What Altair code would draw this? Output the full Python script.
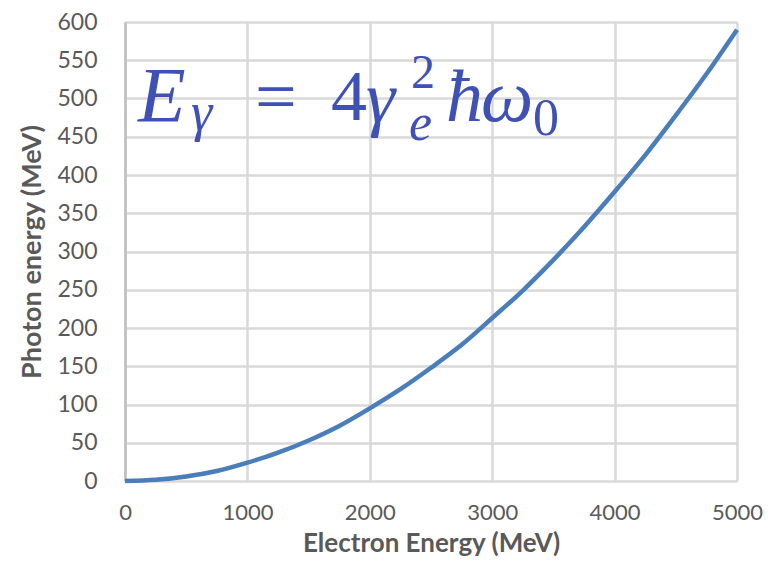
import altair as alt
import pandas as pd

electron_mev = [0, 250, 500, 750, 1000, 1250, 1500, 1750, 2000, 2250, 2500,
                2750, 3000, 3250, 3500, 3750, 4000, 4250, 4500, 4750, 5000]
photon_mev = [0, 1.5, 6, 13, 24, 37, 53, 72, 95, 120, 148,
              178, 213, 249, 289, 332, 378, 426, 478, 532, 590]

x_ticks = [0, 1000, 2000, 3000, 4000, 5000]
y_ticks = list(range(0, 601, 50))

# formula pieces: text, dx, dy (pixel offsets in plot), size, italic
formula_text = ["E", "γ", "=", "4", "γ", "2", "e", "ħ", "ω", "0"]
formula_x = [13, 66, 130, 206, 241, 286, 284, 321, 356, 408]
formula_y = [99, 108, 99, 98, 100, 66, 118, 99, 99, 113]
formula_size = [78, 54, 74, 72, 74, 48, 52, 74, 74, 52]
formula_style = ["italic", "italic", "normal", "normal", "italic", "normal",
                 "italic", "italic", "italic", "normal"]

df = pd.DataFrame({"e": electron_mev, "p": photon_mev})

W, H = 612, 459
GRID = "#d9d9d9"
LABEL = "#595959"
BLUE = "#3f51b5"

line = alt.Chart(df).mark_line(color="#4a7ebb", strokeWidth=4.5, interpolate="monotone").encode(
    x=alt.X("e:Q", scale=alt.Scale(domain=[0, 5000], nice=False),
            axis=alt.Axis(values=x_ticks, format="d", title="Electron Energy (MeV)", grid=True,
                          gridColor=GRID, gridWidth=2.5, domain=False, ticks=False,
                          labelFlush=False,
                          labelFont="Lato", labelFontSize=22, labelColor=LABEL,
                          labelPadding=21, titleFont="Lato", titleFontSize=26,
                          titleFontWeight="bold", titleColor=LABEL, titlePadding=7)),
    y=alt.Y("p:Q", scale=alt.Scale(domain=[0, 600], nice=False),
            axis=alt.Axis(values=y_ticks, format="d", title="Photon energy (MeV)", grid=True,
                          gridColor=GRID, gridWidth=2.5, domainColor="#bfbfbf",
                          domainWidth=2.5, ticks=False, labelFlush=False,
                          labelFont="Lato", labelFontSize=23, labelColor=LABEL,
                          labelPadding=28, titleFont="Lato", titleFontSize=27,
                          titleFontWeight="bold", titleColor=LABEL, titlePadding=10)),
)

layers = [line]
for t, x, y, s, st in zip(formula_text, formula_x, formula_y, formula_size, formula_style):
    layers.append(
        alt.Chart(pd.DataFrame({"t": [t]})).mark_text(
            align="left", baseline="alphabetic", font="Liberation Serif",
            fontStyle=st, fontSize=s, color=BLUE
        ).encode(text="t:N", x=alt.value(x), y=alt.value(y))
    )

chart = alt.layer(*layers).properties(
    width=W, height=H,
    autosize=alt.AutoSizeParams(type="none"),
    padding={"left": 117, "top": 14, "right": 28, "bottom": 76},
).configure_view(stroke=None).configure(background="white")

chart.save("out.html", embed_options={"renderer": "svg", "actions": False})
